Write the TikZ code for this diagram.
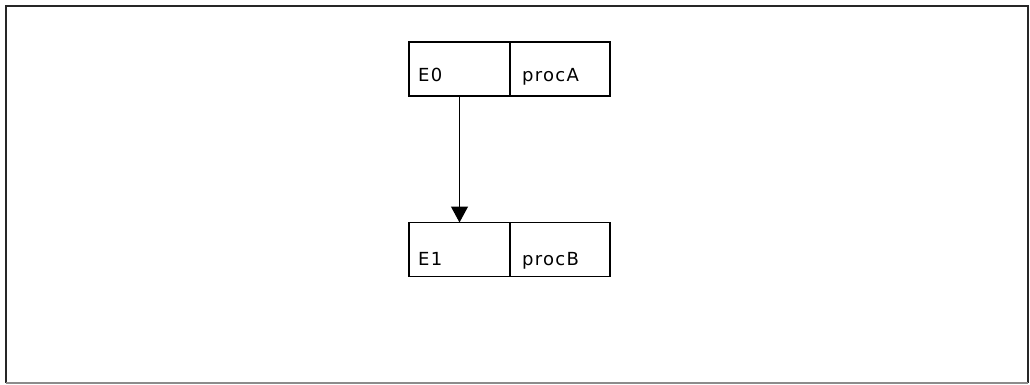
\documentclass[tikz,border=0pt]{standalone}
\usepackage{fontspec}
\setmainfont{DejaVu Sans}[LetterSpace=7]
\usetikzlibrary{arrows.meta}
\tikzset{
  cell/.style={draw=black, line width=1.6pt, minimum height=54pt, inner sep=0pt, outer sep=0pt},
  celltext/.style={anchor=base west, inner sep=0pt, font=\fontsize{18}{20}\selectfont},
  flow/.style={line width=1.2pt, -{Triangle[length=16pt,width=17pt]}}
}
\begin{document}
\begin{tikzpicture}[x=1pt,y=-1pt]
\useasboundingbox (0,0) rectangle (1030,385);
\draw[line width=2pt, black!85] (6,383) -- (6,6) -- (1028,6) -- (1028,383);
\draw[line width=2pt, black!45] (6,383) -- (1028,383);
% row 0
\node[cell, minimum width=101pt] (e0) at (459.5,69) {};
\node[cell, minimum width=100pt] (p0) at (560,69) {};
\node[celltext] (t0) at (418,82) {E0};
\node[celltext] (u0) at (522,82) {procA};
% row 1
\node[cell, minimum width=101pt] (e1) at (459.5,249.5) {};
\node[cell, minimum width=100pt] (p1) at (560,249.5) {};
\node[celltext] (t1) at (418,265) {E1};
\node[celltext] (u1) at (522,265) {procB};
\draw[flow] (e0.south) -- (e1.north);
\end{tikzpicture}
\end{document}
